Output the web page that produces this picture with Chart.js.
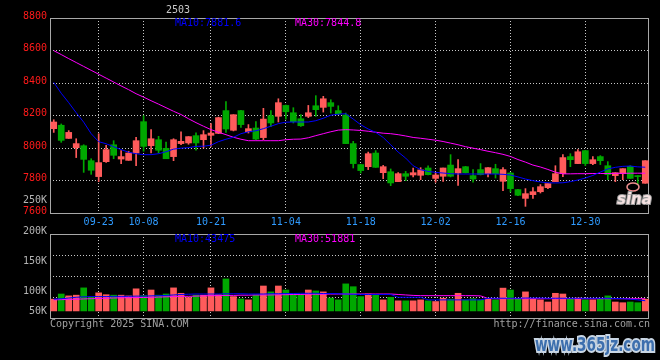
<!DOCTYPE html>
<html>
<head>
<meta charset="utf-8">
<script src="https://cdn.jsdelivr.net/npm/chart.js@4.4.1/dist/chart.umd.min.js"></script>
<style>
  html, body { margin:0; padding:0; background:#000; }
  #wrap { position:relative; width:660px; height:360px; background:#000; overflow:hidden; }
  #kline { position:absolute; left:0; top:0; }
  #vol { position:absolute; left:0; top:220px; }
</style>
</head>
<body>
<div id="wrap">
  <canvas id="kline" width="660" height="232"></canvas>
  <canvas id="vol" width="660" height="140"></canvas>
</div>
<script>
// trading days shown (2024-09-11 .. 2025-01-10)
const dates = ['09-11','09-12','09-13','09-18','09-19','09-20','09-23','09-24','09-25','09-26','09-27','09-30',
  '10-08','10-09','10-10','10-11','10-14','10-15','10-16','10-17','10-18','10-21','10-22','10-23','10-24','10-25','10-28','10-29','10-30','10-31',
  '11-01','11-04','11-05','11-06','11-07','11-08','11-11','11-12','11-13','11-14','11-15','11-18','11-19','11-20','11-21','11-22','11-25','11-26','11-27','11-28','11-29',
  '12-02','12-03','12-04','12-05','12-06','12-09','12-10','12-11','12-12','12-13','12-16','12-17','12-18','12-19','12-20','12-23','12-24','12-25','12-26','12-27','12-30','12-31',
  '01-02','01-03','01-06','01-07','01-08','01-09','01-10'];
const tickDates = ['09-23','10-08','10-21','11-04','11-18','12-02','12-16','12-30'];
const priceTicks = [7600, 7800, 8000, 8200, 8400, 8600, 8800];

const opens  = [8119,8140,8059,8002,8014,7922,7824,7916,8020,7932, 7924,7969,8162,8014,8051,7998,7947,8027,8031,8076,
                8051,8078,8090,8230,8109,8230,8100,8123,8064,8199, 8195,8262,8217,8180,8195,8260,8250,8279,8230,8203,
                8027,7898,7885,7969,7848,7854,7793,7842,7834,7832, 7877,7813,7826,7895,7846,7885,7830,7867,7842,7873,
                7795,7846,7744,7690,7713,7731,7756,7793,7842,7947, 7904,7984,7904,7947,7891,7830,7842,7887,7830,7783];
const highs  = [8174,8148,8107,8057,8020,7934,8088,8016,8045,7984, 7980,8066,8199,8113,8072,8037,8057,8100,8070,8094,
                8107,8150,8190,8285,8205,8232,8144,8162,8244,8230, 8303,8264,8248,8205,8262,8322,8318,8297,8260,8215,
                8041,7900,7975,7984,7893,7871,7848,7856,7877,7879, 7891,7850,7877,7959,7928,7887,7867,7904,7879,7900,
                7879,7850,7746,7750,7756,7775,7781,7891,7959,7965, 7990,7986,7947,7953,7916,7848,7873,7891,7830,7922];
const lows   = [8096,8035,8059,7941,7850,7838,7793,7912,7934,7904, 7924,7891,7980,7969,7969,7934,7922,8020,8023,7986,
                8000,8010,8088,8096,8105,8127,8092,8051,8051,8131, 8160,8178,8154,8133,8187,8195,8221,8215,8205,8027,
                7877,7846,7867,7881,7811,7768,7793,7799,7822,7805, 7834,7789,7795,7822,7770,7846,7789,7834,7822,7815,
                7738,7729,7707,7641,7690,7723,7750,7793,7824,7885, 7904,7891,7898,7898,7805,7793,7805,7813,7775,7783];
const closes = [8160,8047,8096,8027,7930,7863,7910,7990,7955,7947, 7969,8045,8010,8057,7986,7934,8051,8041,8070,8031,
                8082,8092,8187,8117,8205,8144,8119,8055,8178,8154, 8279,8223,8162,8137,8217,8236,8303,8256,8211,8027,
                7904,7861,7965,7881,7885,7785,7842,7826,7848,7865, 7836,7834,7877,7826,7873,7848,7809,7836,7879,7842,
                7867,7750,7709,7719,7731,7762,7781,7842,7941,7928, 7977,7904,7928,7922,7836,7848,7873,7813,7824,7922];

const ma10 = [8404,8337,8279,8217,8159,8088,8039,8026,8008,7990, 7974,7965,7959,7959,7965,7977,7993,7999,8002,8010,
              8011,8017,8039,8054,8066,8088,8100,8106,8119,8134, 8150,8159,8160,8160,8160,8168,8183,8202,8208,8211,
              8178,8143,8117,8096,8065,8020,7975,7938,7891,7866, 7856,7850,7846,7842,7840,7840,7840,7840,7840,7840,
              7838,7834,7822,7809,7799,7791,7786,7785,7786,7793, 7803,7815,7831,7852,7871,7881,7887,7889,7884,7881.6];
const ma30 = [8599,8575,8550,8526,8502,8478,8454,8430,8406,8382, 8359,8334,8313,8291,8270,8248,8226,8206,8180,8156,
              8134,8113,8097,8082,8066,8054,8045,8045,8045,8045, 8045,8051,8054,8055,8063,8076,8088,8100,8110,8113,
              8111,8108,8103,8097,8091,8088,8082,8074,8065,8060, 8054,8048,8040,8030,8020,8008,7999,7990,7980,7971,
              7961,7948,7929,7913,7895,7883,7868,7851,7841,7841, 7842,7842,7843,7843,7843,7844,7844,7845,7845,7844.8];

const volumes = [50000,72000,64000,67000,98000,58000,77000,69000,67000,67000, 64000,94000,65000,89000,67000,72000,98000,75000,57000,67000,
                 67000,98000,69000,136000,61000,51000,47000,67000,106000,81000, 106000,89000,72000,67000,89000,85000,81000,55000,47000,115000,
                 103000,61000,72000,67000,47000,58000,43000,43000,43000,47000, 43000,40000,54000,50000,75000,47000,52000,47000,50000,47000,
                 97000,89000,52000,81000,52000,47000,38000,75000,72000,50000, 55000,47000,47000,50000,64000,38000,35000,38000,35000,50000];
const volMa10 = [50000,52000,55000,58000,60000,61000,61000,61000,62000,62000, 62000,63000,63000,64000,65000,66000,68000,70000,71000,72000,
                 72000,72000,72000,73000,73000,73000,72000,72000,72000,73000, 73000,74000,74000,75000,75000,75000,74000,74000,73000,72000,
                 71000,70000,70000,70000,70000,70000,58000,58000,58000,58000, 47000,47000,47000,47000,47000,47000,47000,47000,54000,54000,
                 54000,54000,54000,55000,55000,55000,54000,54000,54000,54000, 54000,54000,54000,54000,54000,53000,52000,50000,47000,43475];
const volMa30 = [47000,48000,49000,50000,51000,52000,53000,54000,55000,56000, 56000,57000,57000,58000,59000,60000,61000,62000,62000,63000,
                 64000,65000,65000,66000,66000,67000,67000,68000,68000,68000, 69000,69000,70000,70000,71000,71000,71000,72000,72000,72000,
                 72000,72000,72000,72000,72000,72000,70000,68000,66000,65000, 65000,65000,65000,65000,65000,65000,65000,64000,53000,52000,
                 52000,52000,52000,52000,52000,52000,52000,52000,52000,52000, 52000,52000,52000,52000,52000,52000,52000,52000,52000,51881];

const RED = '#ff5b5b', GREEN = '#00a800';
const GRID = '#c8c8c8';
const MONO = '"DejaVu Sans Mono", monospace';
const colors = opens.map((o, i) => closes[i] >= o ? RED : GREEN);

function gridX(c) {
  return tickDates.includes(dates[c.index]) ? GRID : 'transparent';
}

const frame = {
  id: 'frame',
  beforeDatasetsDraw(chart) {
    const {ctx, chartArea: a} = chart;
    ctx.save();
    ctx.strokeStyle = '#a8a8a8';
    ctx.lineWidth = 1;
    ctx.strokeRect(Math.round(a.left) + 0.5, Math.round(a.top) + 0.5,
                   Math.round(a.right - a.left) - 1, Math.round(a.bottom - a.top));
    ctx.restore();
  }
};

function text(ctx, s, x, y, color, align, font) {
  ctx.font = font || ('10px ' + MONO);
  ctx.fillStyle = color;
  ctx.textAlign = align || 'left';
  ctx.textBaseline = 'middle';
  ctx.fillText(s, x, y);
}

const klineText = {
  id: 'klineText',
  afterDraw(chart) {
    const ctx = chart.ctx;
    ctx.save();
    text(ctx, '2503', 166, 10, '#c8c8c8');
    text(ctx, 'MA10:7881.6', 175, 23, '#0000ff');
    text(ctx, 'MA30:7844.8', 295, 23, '#ff00ff');
    text(ctx, '250K', 47, 200, '#b4b4b4', 'right');
    // sina logo
    ctx.strokeStyle = '#f09090';
    ctx.lineWidth = 1.5;
    ctx.beginPath();
    ctx.ellipse(633, 187, 6, 4, 0, 0, Math.PI * 2);
    ctx.stroke();
    ctx.font = 'italic bold 15px "DejaVu Sans"';
    ctx.lineWidth = 2;
    ctx.strokeStyle = '#9a9a9a';
    ctx.textAlign = 'left';
    ctx.textBaseline = 'middle';
    ctx.strokeText('sina', 617, 200);
    ctx.fillStyle = '#f6e2e2';
    ctx.fillText('sina', 617, 200);
    ctx.restore();
  }
};

const volText = {
  id: 'volText',
  afterDraw(chart) {
    const ctx = chart.ctx;
    ctx.save();
    text(ctx, 'MA10:43475', 175, 19, '#0000ff');
    text(ctx, 'MA30:51881', 295, 19, '#ff00ff');
    text(ctx, '200K', 47, 11, '#b4b4b4', 'right');
    text(ctx, '150K', 47, 41, '#b4b4b4', 'right');
    text(ctx, '100K', 47, 71, '#b4b4b4', 'right');
    text(ctx, '50K', 47, 91, '#b4b4b4', 'right');
    text(ctx, 'Copyright 2025 SINA.COM', 50, 104, '#a0a0a0');
    text(ctx, 'http://finance.sina.com.cn', 650, 104, '#a0a0a0', 'right');
    // watermark, fitted to about 120px wide and stretched tall
    ctx.font = 'bold 20px "DejaVu Sans"';
    const w = ctx.measureText('www.365jz.com').width;
    ctx.translate(535, 126);
    ctx.scale(120 / w, 1);
    ctx.textAlign = 'left';
    ctx.textBaseline = 'middle';
    ctx.lineWidth = 4;
    ctx.strokeStyle = '#c9d6e4';
    ctx.strokeText('www.365jz.com', 0, 0);
    ctx.fillStyle = '#3d6fae';
    ctx.fillText('www.365jz.com', 0, 0);
    ctx.restore();
  }
};

new Chart(document.getElementById('kline'), {
  type: 'bar',
  data: {
    labels: dates,
    datasets: [
      { type: 'line', label: 'MA10', data: ma10, borderColor: '#0000ff', borderWidth: 1, pointRadius: 0, tension: 0, order: 0 },
      { type: 'line', label: 'MA30', data: ma30, borderColor: '#ff00ff', borderWidth: 1, pointRadius: 0, tension: 0, order: 0 },
      { label: 'body', data: opens.map((o, i) => [o, closes[i]]), backgroundColor: colors,
        barThickness: 6, minBarLength: 1, grouped: false, order: 1 },
      { label: 'wick', data: lows.map((l, i) => [l, highs[i]]), backgroundColor: colors,
        barThickness: 1, minBarLength: 1, grouped: false, order: 2 }
    ]
  },
  options: {
    responsive: false,
    animation: false,
    layout: { autoPadding: false, padding: { left: 0, top: 18, right: 11, bottom: 0 } },
    plugins: { legend: { display: false }, tooltip: { enabled: false } },
    scales: {
      x: {
        offset: true,
        grid: { offset: false, color: gridX, drawTicks: false },
        border: { display: false, dash: [1, 2] },
        ticks: {
          autoSkip: false, maxRotation: 0, padding: 3, color: '#2f9bff',
          font: { family: MONO, size: 10 },
          callback: (v, i) => tickDates.includes(dates[i]) ? dates[i] : ''
        },
        afterFit: s => { s.height = 19; }
      },
      y: {
        min: 7600, max: 8800,
        afterBuildTicks: s => { s.ticks = priceTicks.map(v => ({ value: v })); },
        ticks: { color: '#ff1a1a', padding: 3, labelOffset: -2, font: { family: MONO, size: 10 },
                 callback: v => String(v) },
        grid: { color: c => (c.tick && (c.tick.value === 7600 || c.tick.value === 8800)) ? 'transparent' : GRID, drawTicks: false },
        border: { display: false, dash: [1, 2] },
        afterFit: s => { s.width = 50; }
      }
    }
  },
  plugins: [frame, klineText]
});

new Chart(document.getElementById('vol'), {
  type: 'bar',
  data: {
    labels: dates,
    datasets: [
      { type: 'line', label: 'MA10', data: volMa10, borderColor: '#0000ff', borderWidth: 1, pointRadius: 0, tension: 0, order: 0 },
      { type: 'line', label: 'MA30', data: volMa30, borderColor: '#ff00ff', borderWidth: 1, pointRadius: 0, tension: 0, order: 0 },
      { label: 'volume', data: volumes, backgroundColor: colors, barThickness: 6, order: 1 }
    ]
  },
  options: {
    responsive: false,
    animation: false,
    layout: { autoPadding: false, padding: { left: 0, top: 14, right: 11, bottom: 0 } },
    plugins: { legend: { display: false }, tooltip: { enabled: false } },
    scales: {
      x: {
        offset: true,
        grid: { offset: false, color: gridX, drawTicks: false },
        border: { display: false, dash: [1, 2] },
        ticks: { display: false, autoSkip: false },
        afterFit: s => { s.height = 42; }
      },
      y: {
        min: -30000, max: 327000,
        ticks: { display: false, count: 5 },
        grid: { color: c => (c.index === 0 || c.index === 4) ? 'transparent' : GRID, drawTicks: false },
        border: { display: false, dash: [1, 2] },
        afterFit: s => { s.width = 50; }
      }
    }
  },
  plugins: [frame, volText]
});
</script>
</body>
</html>
